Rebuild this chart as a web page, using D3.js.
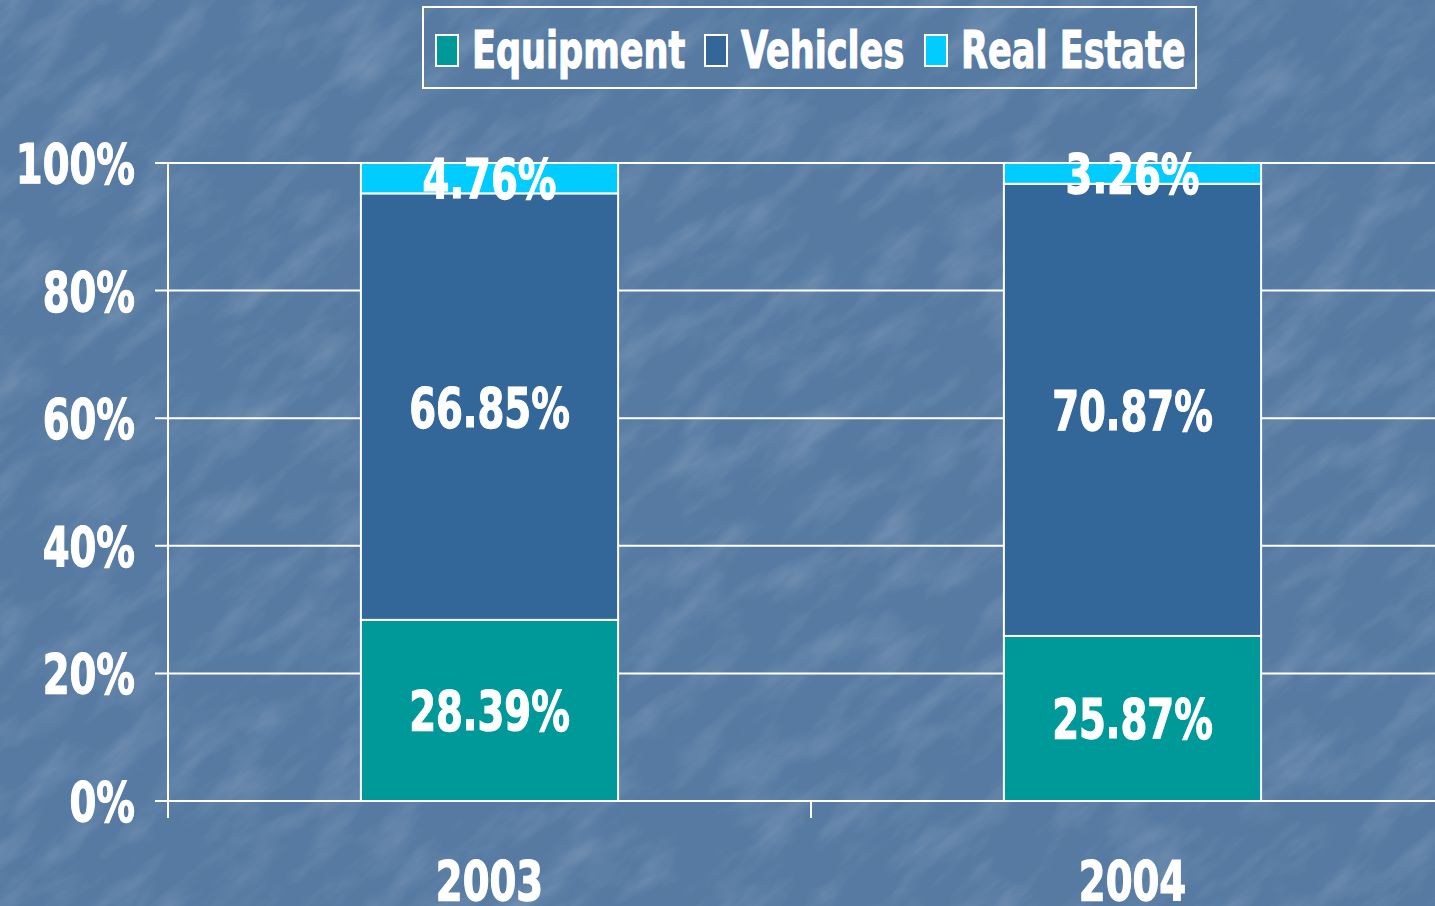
<!DOCTYPE html>
<html>
<head>
<meta charset="utf-8">
<script src="https://cdn.jsdelivr.net/npm/d3@7"></script>
<style>
  body { margin: 0; background: #587aa1; }
  text { font-family: "DejaVu Sans Condensed", "DejaVu Sans", sans-serif; font-stretch: condensed; font-weight: bold; fill: #fff; stroke: #fff; stroke-width: 1.2px; }
</style>
</head>
<body>
<div class="chart"></div>
<script>
// chart data
var years = ["2003", "2004"];
var seriesNames = ["Equipment", "Vehicles", "Real Estate"];
var equipment = [28.39, 25.87];
var vehicles = [66.85, 70.87];
var realEstate = [4.76, 3.26];
var yTicks = [0, 20, 40, 60, 80, 100];
var colors = ["#009999", "#336699", "#00ccff"];

var svgWidth = 1435;
var svgHeight = 906;
var sx = 0.78; // squeeze the text horizontally

var svg = d3.select(".chart").append("svg")
  .attr("width", svgWidth)
  .attr("height", svgHeight);

// background with a light texture
var defs = svg.append("defs");
var f = defs.append("filter").attr("id", "tex").attr("x", 0).attr("y", 0).attr("width", "100%").attr("height", "100%");
f.append("feTurbulence").attr("type", "fractalNoise").attr("baseFrequency", "0.012 0.035").attr("numOctaves", 4).attr("seed", 7);
f.append("feColorMatrix").attr("type", "matrix")
  .attr("values", "0 0 0 0 1  0 0 0 0 1  0 0 0 0 1  0 0 0 1.4 -0.6");
svg.append("rect").attr("width", svgWidth).attr("height", svgHeight).attr("fill", "#567aa2");
svg.append("g").attr("transform", "rotate(-40 717 453)")
  .append("rect").attr("x", -500).attr("y", -500).attr("width", 2500).attr("height", 2000)
  .attr("filter", "url(#tex)").attr("opacity", 0.22);

var table = years.map(function(yr, i) {
  return { year: yr, "Equipment": equipment[i], "Vehicles": vehicles[i], "Real Estate": realEstate[i] };
});

var x = d3.scaleBand().domain(years).range([168, 1454]).padding(0);
var y = d3.scaleLinear().domain([0, 100]).range([801, 163]);
var barW = x.bandwidth() * 0.4;

// gridlines
svg.append("g").selectAll("line")
  .data(yTicks)
  .enter().append("line")
  .attr("x1", 155).attr("x2", svgWidth)
  .attr("y1", function(d) { return y(d); })
  .attr("y2", function(d) { return y(d); })
  .attr("stroke", "#fff").attr("stroke-width", 2);

// y axis line + x ticks
svg.append("line").attr("x1", 168).attr("x2", 168).attr("y1", y(100)).attr("y2", 818)
  .attr("stroke", "#fff").attr("stroke-width", 2);
svg.append("g").selectAll("line")
  .data(years.slice(1))
  .enter().append("line")
  .attr("x1", function(d) { return x(d); }).attr("x2", function(d) { return x(d); })
  .attr("y1", y(0)).attr("y2", 818)
  .attr("stroke", "#fff").attr("stroke-width", 2);

// stacked bars
var stacked = d3.stack().keys(seriesNames)(table);
var layers = svg.append("g").selectAll("g")
  .data(stacked)
  .enter().append("g")
  .attr("fill", function(d, i) { return colors[i]; });

layers.selectAll("rect")
  .data(function(d) { return d; })
  .enter().append("rect")
  .attr("x", function(d) { return x(d.data.year) + (x.bandwidth() - barW) / 2; })
  .attr("y", function(d) { return y(d[1]); })
  .attr("width", barW)
  .attr("height", function(d) { return y(d[0]) - y(d[1]); })
  .attr("stroke", "#fff").attr("stroke-width", 2);

// value labels
layers.selectAll("text")
  .data(function(d) { return d; })
  .enter().append("text")
  .attr("transform", function(d) {
    return "translate(" + (x(d.data.year) + x.bandwidth() / 2) + "," + (y((d[0] + d[1]) / 2) + 20) + ") scale(" + sx + ",1)";
  })
  .attr("text-anchor", "middle")
  .style("font-size", "55px")
  .text(function(d) { return (d[1] - d[0]).toFixed(2) + "%"; });

// y tick labels
svg.append("g").selectAll("text")
  .data(yTicks)
  .enter().append("text")
  .attr("transform", function(d) { return "translate(135," + (y(d) + 20) + ") scale(" + sx + ",1)"; })
  .attr("text-anchor", "end")
  .style("font-size", "55px")
  .text(function(d) { return d + "%"; });

// x labels
svg.append("g").selectAll("text")
  .data(years)
  .enter().append("text")
  .attr("transform", function(d) { return "translate(" + (x(d) + x.bandwidth() / 2) + ",900) scale(" + sx + ",1)"; })
  .attr("text-anchor", "middle")
  .style("font-size", "55px")
  .text(function(d) { return d; });

// legend
var legend = svg.append("g");
legend.append("rect").attr("x", 423).attr("y", 7).attr("width", 773).attr("height", 81)
  .attr("fill", "none").attr("stroke", "#fff").attr("stroke-width", 2);
var legX = [436, 705, 925];
var items = legend.selectAll("g.item")
  .data(seriesNames)
  .enter().append("g").attr("class", "item")
  .attr("transform", function(d, i) { return "translate(" + legX[i] + ",0)"; });
items.append("rect")
  .attr("x", 0).attr("y", 35).attr("width", 22).attr("height", 31)
  .attr("fill", function(d, i) { return colors[i]; })
  .attr("stroke", "#fff").attr("stroke-width", 2);
items.append("text")
  .attr("transform", "translate(36,68) scale(0.75,1)")
  .style("font-size", "52px")
  .text(function(d) { return d; });
</script>
</body>
</html>
